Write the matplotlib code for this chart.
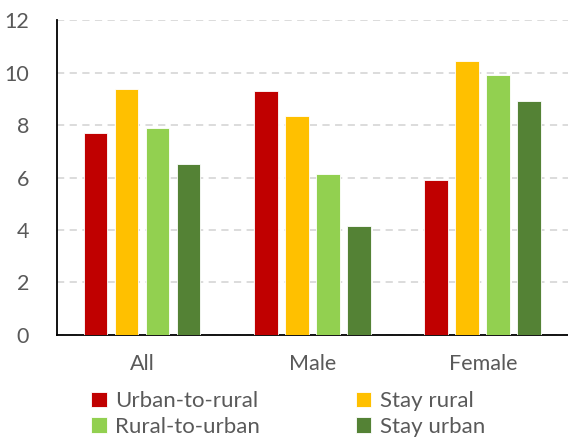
import matplotlib.pyplot as plt
import numpy as np

groups = ['All', 'Male', 'Female']
series = ['Urban-to-rural', 'Stay rural', 'Rural-to-urban', 'Stay urban']
urban_to_rural = [7.68, 9.28, 5.90]
stay_rural = [9.38, 8.33, 10.43]
rural_to_urban = [7.89, 6.12, 9.89]
stay_urban = [6.51, 4.14, 8.91]
colors = ['#C00000', '#FFC000', '#92D050', '#548235']

plt.rcParams['font.family'] = ['Lato', 'DejaVu Sans']

fig = plt.figure(figsize=(5.68, 4.41), dpi=100)
ax = fig.add_axes([0.1, 0.2404, 0.9, 0.7142])

x = np.arange(len(groups))
step = 0.182
width = 0.14
values = [urban_to_rural, stay_rural, rural_to_urban, stay_urban]
bars = []
for k, (name, vals) in enumerate(zip(series, values)):
    b = ax.bar(x + (k - 1.5) * step, vals, width, color=colors[k], label=name,
               edgecolor='white', linewidth=0.6, zorder=3)
    bars.append(b)

ax.set_ylim(0, 12)
ax.set_xlim(-0.5, 2.5)
ax.set_yticks(range(0, 13, 2))
ax.set_xticks(x)
ax.set_xticklabels(groups)
ax.yaxis.grid(True, linestyle=(0, (4, 3)), color='#d9d9d9', linewidth=1.3, zorder=0)
ax.tick_params(axis='both', length=0, labelsize=15.5, labelcolor='#595959')
ax.tick_params(axis='x', pad=14)
ax.tick_params(axis='y', pad=20)
for s in ['top', 'right']:
    ax.spines[s].set_visible(False)
ax.spines['left'].set_color('black')
ax.spines['left'].set_linewidth(1.3)
ax.spines['bottom'].set_color('black')
ax.spines['bottom'].set_linewidth(1.3)

# legend fills row by row in the reference
order = [0, 2, 1, 3]
leg = fig.legend([bars[i] for i in order], [series[i] for i in order],
                 loc='lower left', bbox_to_anchor=(0.125, -0.036), ncol=2, frameon=False,
                 fontsize=16, handlelength=0.7, handleheight=0.7, handletextpad=0.4,
                 columnspacing=4.3, labelspacing=0.25)
for t in leg.get_texts():
    t.set_color('#595959')

fig.savefig('out.png', dpi=100)
